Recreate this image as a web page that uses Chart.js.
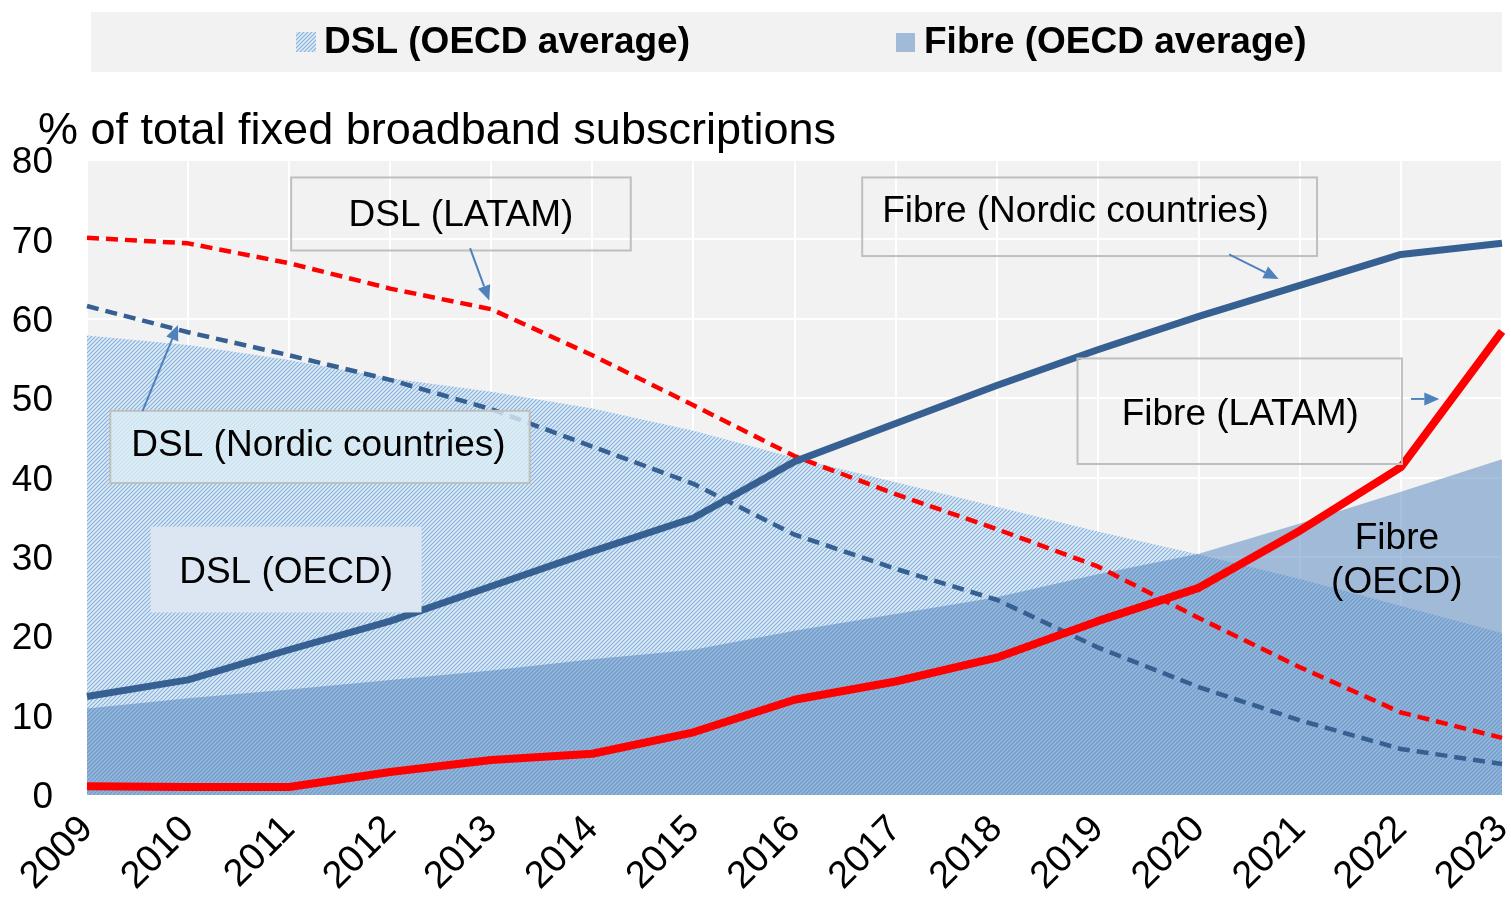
<!DOCTYPE html>
<html>
<head>
<meta charset="utf-8">
<script src="https://cdn.jsdelivr.net/npm/chart.js@4.4.0/dist/chart.umd.min.js"></script>
<style>
  body { margin: 0; background: #fff; }
  #wrap { width: 1511px; height: 901px; }
</style>
</head>
<body>
<div id="wrap"><canvas id="chart" width="1511" height="901"></canvas></div>
<script>
// values (% of total fixed broadband subscriptions)
const years = ['2009', '2010', '2011', '2012', '2013', '2014', '2015', '2016', '2017', '2018', '2019', '2020', '2021', '2022', '2023'];
const fibreNordic = [12.4, 14.5, 18.3, 21.9, 26.3, 30.7, 34.9, 42.0, 46.8, 51.6, 56.1, 60.3, 64.2, 68.1, 69.5];
const fibreLatam  = [1.1, 1.0, 1.0, 2.9, 4.4, 5.2, 7.9, 12.0, 14.3, 17.3, 21.9, 26.1, 33.3, 41.3, 58.4];
const dslLatam    = [70.2, 69.5, 67.0, 63.8, 61.2, 55.4, 49.1, 42.7, 37.9, 33.5, 28.8, 22.3, 16.1, 10.4, 7.2];
const dslNordic   = [61.6, 58.3, 55.4, 52.3, 48.6, 43.9, 39.2, 32.8, 28.5, 24.6, 18.6, 13.6, 9.4, 5.8, 3.9];
const dslOecd     = [57.9, 56.7, 54.8, 52.5, 50.8, 48.7, 45.9, 42.5, 39.4, 36.3, 33.2, 30.3, 27.2, 23.8, 20.4];
const fibreOecd   = [10.9, 12.2, 13.3, 14.5, 15.7, 17.1, 18.3, 20.7, 22.8, 24.9, 27.8, 30.4, 34.2, 38.2, 42.3];
const yTicks = [0, 10, 20, 30, 40, 50, 60, 70, 80];

const FONT = '"Liberation Sans", Arial, sans-serif';
const NAVY = '#376092';
const RED = '#ff0000';
const FIBRE_FILL = 'rgba(79, 129, 189, 0.5)';

// diagonal hatch used for the DSL (OECD) area
function makeHatch() {
    const c = document.createElement('canvas');
    c.width = 4; c.height = 4;
    const g = c.getContext('2d');
    g.fillStyle = '#dcedf7';
    g.fillRect(0, 0, 4, 4);
    g.strokeStyle = '#8cb0da';
    g.lineWidth = 1.2;
    g.beginPath();
    g.moveTo(-1, 5); g.lineTo(5, -1);
    g.moveTo(3, 5); g.lineTo(5, 3);
    g.moveTo(-1, 1); g.lineTo(1, -1);
    g.stroke();
    return g.createPattern(c, 'repeat');
}
const hatch = makeHatch();

// annotation boxes, in axis units (x = year index, y = %)
const notes = [
    { lines: ['DSL (LATAM)'], at: [3.70, 73.2], box: [2.02, 77.8, 5.38, 68.6], border: true, arrow: [3.79, 68.9, 3.98, 62.3] },
    { lines: ['DSL (Nordic countries)'], at: [2.29, 44.2], box: [0.23, 48.4, 4.38, 39.3], border: true, fill: 'rgba(220, 238, 245, 0.8)', arrow: [0.55, 48.4, 0.90, 59.2] },
    { lines: ['DSL (OECD)'], at: [1.97, 28.3], box: [0.63, 33.8, 3.31, 23.0], fill: '#dce6f2' },
    { lines: ['Fibre (Nordic countries)'], at: [9.78, 73.7], box: [7.67, 77.8, 12.17, 67.9], border: true, arrow: [11.30, 68.1, 11.79, 65.0] },
    { lines: ['Fibre (LATAM)'], at: [11.41, 48.1], box: [9.80, 55.0, 13.01, 41.7], border: true, arrow: [13.10, 49.9, 13.38, 49.9] },
    { lines: ['Fibre', '(OECD)'], at: [12.96, 29.75] }
];

const backdrop = {
    id: 'backdrop',
    beforeDraw(chart) {
        const { ctx, chartArea: a } = chart;
        ctx.save();
        ctx.fillStyle = '#fff';
        ctx.fillRect(0, 0, chart.width, chart.height);
        ctx.fillStyle = '#f2f2f2';
        ctx.fillRect(a.left, a.top, a.right - a.left, a.bottom - a.top);
        ctx.restore();
    }
};

function arrow(ctx, x1, y1, x2, y2) {
    const ang = Math.atan2(y2 - y1, x2 - x1);
    const len = 15, half = 6.5;
    const bx = x2 - len * Math.cos(ang), by = y2 - len * Math.sin(ang);
    ctx.beginPath();
    ctx.moveTo(x1, y1);
    ctx.lineTo(bx, by);
    ctx.stroke();
    ctx.beginPath();
    ctx.moveTo(x2, y2);
    ctx.lineTo(bx + half * Math.sin(ang), by - half * Math.cos(ang));
    ctx.lineTo(bx - half * Math.sin(ang), by + half * Math.cos(ang));
    ctx.closePath();
    ctx.fill();
}

const overlay = {
    id: 'overlay',
    afterDatasetsDraw(chart) {
        const { ctx } = chart;
        const xs = chart.scales.x, ys = chart.scales.y;
        ctx.save();
        notes.forEach(n => {
            if (n.box) {
                const x1 = xs.getPixelForValue(n.box[0]), y1 = ys.getPixelForValue(n.box[1]);
                const x2 = xs.getPixelForValue(n.box[2]), y2 = ys.getPixelForValue(n.box[3]);
                if (n.fill) {
                    ctx.fillStyle = n.fill;
                    ctx.fillRect(x1, y1, x2 - x1, y2 - y1);
                }
                if (n.border) {
                    ctx.strokeStyle = '#bfbfbf';
                    ctx.lineWidth = 2;
                    ctx.strokeRect(x1, y1, x2 - x1, y2 - y1);
                }
            }
            if (n.arrow) {
                ctx.strokeStyle = '#4f81bd';
                ctx.fillStyle = '#4f81bd';
                ctx.lineWidth = 2;
                arrow(ctx, xs.getPixelForValue(n.arrow[0]), ys.getPixelForValue(n.arrow[1]),
                    xs.getPixelForValue(n.arrow[2]), ys.getPixelForValue(n.arrow[3]));
            }
            ctx.fillStyle = '#000';
            ctx.font = '37px ' + FONT;
            ctx.textAlign = 'center';
            ctx.textBaseline = 'middle';
            const cx = xs.getPixelForValue(n.at[0]), cy = ys.getPixelForValue(n.at[1]) + 2;
            const lh = 44;
            n.lines.forEach((t, i) => {
                ctx.fillText(t, cx, cy + (i - (n.lines.length - 1) / 2) * lh);
            });
        });
        ctx.restore();
    },
    afterDraw(chart) {
        const { ctx } = chart;
        ctx.save();
        // legend strip
        ctx.fillStyle = '#f2f2f2';
        ctx.fillRect(91, 12, 1411, 60);
        const dsl = chart.data.datasets[5], fib = chart.data.datasets[4];
        ctx.fillStyle = dsl.backgroundColor;
        ctx.fillRect(296, 32, 20, 20);
        ctx.fillStyle = fib.backgroundColor;
        ctx.fillRect(896, 33, 19, 19);
        ctx.fillStyle = '#000';
        ctx.font = 'bold 37px ' + FONT;
        ctx.textAlign = 'left';
        ctx.textBaseline = 'middle';
        ctx.fillText(dsl.label, 324, 43);
        ctx.fillText(fib.label, 924, 43);
        // axis title
        ctx.font = '45px ' + FONT;
        ctx.fillText('% of total fixed broadband subscriptions', 38, 132);
        ctx.restore();
    }
};

new Chart(document.getElementById('chart'), {
    type: 'line',
    data: {
        labels: years,
        datasets: [
            { label: 'Fibre (Nordic countries)', data: fibreNordic, borderColor: NAVY, borderWidth: 7, order: 1 },
            { label: 'Fibre (LATAM)', data: fibreLatam, borderColor: RED, borderWidth: 8, order: 0 },
            { label: 'DSL (LATAM)', data: dslLatam, borderColor: RED, borderWidth: 4.5, borderDash: [12, 7], order: 2 },
            { label: 'DSL (Nordic countries)', data: dslNordic, borderColor: NAVY, borderWidth: 4.5, borderDash: [12, 7], order: 3 },
            { label: 'Fibre (OECD average)', data: fibreOecd, fill: 'origin', backgroundColor: FIBRE_FILL, borderWidth: 0, order: 4 },
            { label: 'DSL (OECD average)', data: dslOecd, fill: 'origin', backgroundColor: hatch, borderWidth: 0, order: 5 }
        ]
    },
    options: {
        responsive: false,
        animation: false,
        layout: { padding: { top: 160, right: 9, left: 0, bottom: 0 } },
        elements: { point: { radius: 0 }, line: { tension: 0, borderJoinStyle: 'round' } },
        plugins: { legend: { display: false }, tooltip: { enabled: false } },
        scales: {
            x: {
                grid: { color: '#fff', lineWidth: 2, drawTicks: false },
                border: { display: false },
                ticks: {
                    color: '#000', font: { family: FONT, size: 38 },
                    autoSkip: false, maxRotation: 45, minRotation: 45, padding: 12
                },
                afterFit(s) { s.height = 106; s.paddingLeft = 0; s.paddingRight = 0; }
            },
            y: {
                min: 0, max: 80,
                afterBuildTicks(s) { s.ticks = yTicks.map(v => ({ value: v })); },
                grid: { color: '#fff', lineWidth: 2, drawTicks: false },
                border: { display: false },
                ticks: { color: '#000', font: { family: FONT, size: 37 }, padding: 34, labelOffset: 3 },
                afterFit(s) { s.width = 87; }
            }
        }
    },
    plugins: [backdrop, overlay]
});
</script>
</body>
</html>
